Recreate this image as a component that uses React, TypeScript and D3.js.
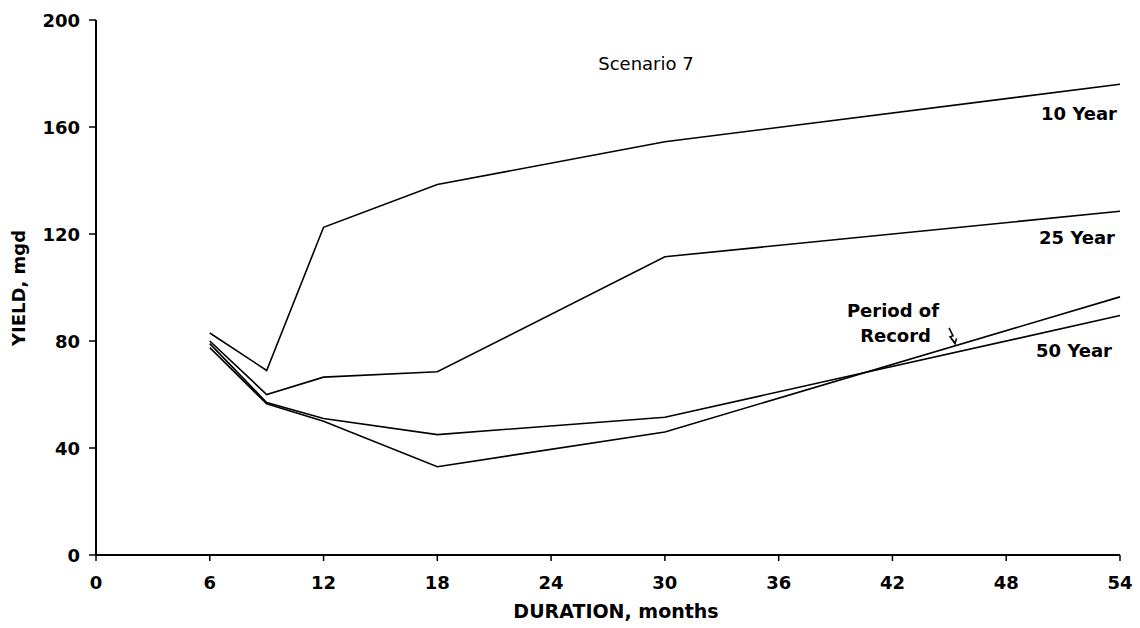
import React, { useEffect } from 'react';
import * as d3 from 'd3';

// durations (months) at which yields were computed
const months = [6, 9, 12, 18, 30, 54];
const tenYear = [83, 69, 122.5, 138.5, 154.5, 176];
const twentyFiveYear = [80, 60, 66.5, 68.5, 111.5, 128.5];
const fiftyYear = [79, 57, 51, 45, 51.5, 89.5];
const periodOfRecord = [77.5, 56.5, 50, 33, 46, 96.5];

const xTicks = [0, 6, 12, 18, 24, 30, 36, 42, 48, 54];
const yTicks = [0, 40, 80, 120, 160, 200];

const W = 1140;
const H = 628;
const font = '"DejaVu Sans", Verdana, sans-serif';

export default function App() {
  useEffect(() => {
    document.body.style.margin = '0';
  }, []);

  const x = d3.scaleLinear().domain([0, 54]).range([96, 1120]);
  const y = d3.scaleLinear().domain([0, 200]).range([555, 20]);

  const line = d3.line<number>()
    .x((d, i) => x(months[i]))
    .y(d => y(d));

  const series = [tenYear, twentyFiveYear, fiftyYear, periodOfRecord];

  // arrow for the "Period of Record" note, pointing at that line near 45 months
  const ax = x(45.3);
  const ay = y(periodOfRecord[4] + (periodOfRecord[5] - periodOfRecord[4]) * (15.3 / 24)) - 2;

  const label = { fontFamily: font, fontWeight: 'bold' as const, fontSize: 18 };

  return (
    <svg width={W} height={H} style={{ display: 'block', background: '#fff' }}>
      {/* y axis */}
      <line x1={x(0)} x2={x(0)} y1={y(0)} y2={y(200)} stroke="#000" strokeWidth={2} />
      {yTicks.map(t => (
        <g key={'y' + t}>
          <line x1={x(0) - 7} x2={x(0)} y1={y(t)} y2={y(t)} stroke="#000" strokeWidth={1.5} />
          <text x={80} y={y(t) + 6.5} textAnchor="end" {...label}>{t}</text>
        </g>
      ))}
      {/* x axis */}
      <line x1={x(0)} x2={x(54)} y1={y(0)} y2={y(0)} stroke="#000" strokeWidth={2} />
      {xTicks.map(t => (
        <g key={'x' + t}>
          <line x1={x(t)} x2={x(t)} y1={y(0)} y2={y(0) + 6} stroke="#000" strokeWidth={1.5} />
          <text x={x(t)} y={588.5} textAnchor="middle" {...label}>{t}</text>
        </g>
      ))}

      <text transform="translate(25,288) rotate(-90)" textAnchor="middle"
        fontFamily={font} fontWeight="bold" fontSize={18}>YIELD, mgd</text>
      <text x={616} y={618} textAnchor="middle" fontFamily={font} fontWeight="bold" fontSize={19}>
        DURATION, months
      </text>

      {series.map((s, i) => (
        <path key={i} d={line(s) || ''} fill="none" stroke="#000" strokeWidth={1.6} />
      ))}

      <text x={646} y={69.5} textAnchor="middle" fontFamily={font} fontSize={18}>Scenario 7</text>

      <text x={1117} y={119.5} textAnchor="end" {...label}>10 Year</text>
      <text x={1115} y={243.5} textAnchor="end" {...label}>25 Year</text>
      <text x={1112} y={356.5} textAnchor="end" {...label}>50 Year</text>
      <text x={893} y={316.5} textAnchor="middle" {...label}>Period of</text>
      <text x={931} y={341.5} textAnchor="end" {...label}>Record</text>
      <path d={`M${ax - 6},${ay - 16} L${ax - 2},${ay - 8} L${ax - 5},${ay - 7} L${ax},${ay - 1}`}
        fill="none" stroke="#000" strokeWidth={1.5} />
      <path d={`M${ax - 3.5},${ay - 5} L${ax},${ay} L${ax + 1.5},${ay - 5.5}`}
        fill="none" stroke="#000" strokeWidth={1.5} />
    </svg>
  );
}
